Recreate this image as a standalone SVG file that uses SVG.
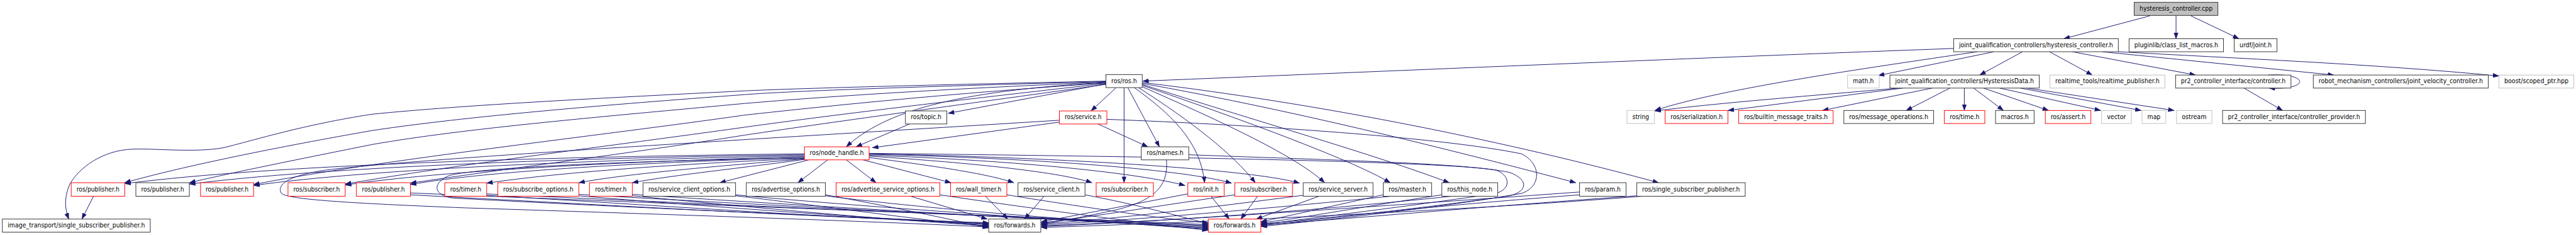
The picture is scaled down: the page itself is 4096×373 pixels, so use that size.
<svg xmlns="http://www.w3.org/2000/svg" width="4096" height="373" viewBox="0 0 4096 373">
<defs>
<marker id="arr" markerUnits="userSpaceOnUse" markerWidth="14" markerHeight="10" viewBox="0 0 14 10" refX="13" refY="5" orient="auto"><path d="M0,0 L14,5 L0,10 z" fill="#191970"/></marker>
<style>
.nd rect{fill:#fff;stroke-width:1.3}
.b rect{stroke:#333}
.r rect{stroke:#ff0000}
.g rect{stroke:#bfbfbf}
.root rect{fill:#bfbfbf;stroke:#333}
.nd text{font-family:"DejaVu Sans","Liberation Sans",sans-serif;font-size:14px;fill:#000;text-anchor:middle}
#edges path{fill:none;stroke:#191970;stroke-width:1.3;marker-end:url(#arr)}
</style>
</defs>
<rect width="4096" height="373" fill="#fff"/>
<g transform="scale(0.7398)">
<g id="edges">
<path d="M4621,34 L4436,83"/>
<path d="M4677,34 L4677,83"/>
<path d="M4709,34 L4812,83"/>
<path d="M4199,104 C3700,122 3000,152 2456,174"/>
<path d="M4250,111 C4000,148 3700,190 3557,237"/>
<path d="M4286,111 L4037,162"/>
<path d="M4347,111 L4255,161"/>
<path d="M4405,111 L4497,161"/>
<path d="M4454,111 L4719,161"/>
<path d="M4518,111 L5016,161"/>
<path d="M4553,111 C4800,125 5100,137 5371,163"/>
<path d="M4080,189 C3900,205 3700,220 3557,238"/>
<path d="M4090,189 L3714,237"/>
<path d="M4153,189 L3917,237"/>
<path d="M4191,189 L4097,237"/>
<path d="M4222,189 L4222,237"/>
<path d="M4242,189 L4306,237"/>
<path d="M4263,189 L4403,237"/>
<path d="M4298,189 L4515,237"/>
<path d="M4342,189 L4602,237"/>
<path d="M4357,189 L4673,237"/>
<path d="M4875,161 C4965,156 4965,194 4877,189"/>
<path d="M4823,189 L4906,237"/>
<path d="M2399,188 L2345,238"/>
<path d="M2416,188 L2416,392"/>
<path d="M2424,188 L2492,315"/>
<path d="M2438,188 C2510,240 2580,300 2589,392"/>
<path d="M2447,188 C2560,260 2650,330 2698,392"/>
<path d="M2455,186 C2600,250 2780,330 2847,392"/>
<path d="M2455,183 C2650,250 2900,340 2988,392"/>
<path d="M2455,181 C2700,260 2950,330 3115,392"/>
<path d="M2455,179 C2800,240 3150,330 3387,392"/>
<path d="M2455,177 C2900,230 3300,320 3565,392"/>
<path d="M2377,180 L2038,243"/>
<path d="M2377,177 C2050,195 1900,240 1819,315"/>
<path d="M2377,174 C2000,182 1700,190 1600,195 C1300,210 1000,225 800,245 C650,268 550,300 480,317 C420,328 330,318 286,320 C220,322 170,360 150,395 C135,430 142,455 148,470"/>
<path d="M2377,175 C2000,185 1700,195 1600,203 C1300,225 1000,250 800,280 C600,315 400,355 268,392"/>
<path d="M2377,176 C2050,190 1800,205 1600,222 C1300,250 1000,275 800,310 C650,340 500,370 407,392"/>
<path d="M2377,178 C2050,200 1800,225 1600,247 C1300,290 800,345 545,396"/>
<path d="M2377,179 C2100,210 1800,245 1600,273 C1300,315 1000,350 742,395"/>
<path d="M2377,181 C2100,220 1800,260 1600,290 C1350,330 1100,360 882,393"/>
<path d="M1729,330 C1200,336 600,352 268,394"/>
<path d="M1729,332 C1250,338 700,358 407,395"/>
<path d="M1729,334 C1300,342 800,362 545,398"/>
<path d="M1729,336 C1350,346 950,366 742,397"/>
<path d="M1729,338 C1400,348 1050,366 882,396"/>
<path d="M1729,340 C1450,352 1200,370 1046,393"/>
<path d="M1729,341 C1550,356 1350,372 1244,392"/>
<path d="M1729,342 C1600,360 1450,375 1359,392"/>
<path d="M1738,343 L1547,392"/>
<path d="M1779,343 L1715,392"/>
<path d="M1819,343 L1883,392"/>
<path d="M1855,343 L2044,392"/>
<path d="M1868,338 C2000,355 2120,372 2179,392"/>
<path d="M1868,335 C2100,350 2280,370 2347,392"/>
<path d="M1868,333 C2200,345 2450,372 2547,398"/>
<path d="M1868,331 C2250,340 2550,365 2647,393"/>
<path d="M1868,330 C2300,338 2700,365 2793,393"/>
<path d="M1868,329 C2400,335 3100,345 3215,365 C3245,375 3250,405 3215,415 C3050,440 2800,470 2710,482"/>
<path d="M1729,339 C1300,346 1000,362 962,378 C928,395 932,420 975,425 C1400,448 1900,468 2125,479"/>
<path d="M2277,258 C1600,300 900,340 700,365 C610,378 595,400 605,415 C620,428 750,436 1000,446 C1500,462 1900,476 2125,487"/>
<path d="M2379,256 C2700,268 3100,295 3270,330 C3312,350 3315,400 3270,415 C3100,445 2850,472 2710,486"/>
<path d="M2555,332 C2900,345 3150,350 3245,370 C3285,385 3285,410 3245,420 C3050,448 2820,472 2710,484"/>
<path d="M2507,343 C2512,400 2480,430 2400,450 C2330,465 2280,475 2238,480"/>
<path d="M1955,266 L1840,315"/>
<path d="M2277,262 L1875,317"/>
<path d="M2360,266 L2467,315"/>
<path d="M201,421 L176,470"/>
<path d="M882,418 C1300,440 1800,468 2125,478"/>
<path d="M1046,419 C1400,440 1800,468 2125,480"/>
<path d="M1244,420 C1500,442 1900,470 2125,482"/>
<path d="M1359,420 C1600,443 1900,472 2125,484"/>
<path d="M1581,420 C1800,446 2000,475 2125,486"/>
<path d="M1774,418 C1900,440 2050,472 2125,489"/>
<path d="M1957,421 L2122,470"/>
<path d="M2118,421 L2166,470"/>
<path d="M2244,421 L2202,470"/>
<path d="M882,414 C1500,440 2300,468 2597,482"/>
<path d="M1046,416 C1600,442 2300,470 2597,484"/>
<path d="M1244,417 C1700,444 2300,472 2597,486"/>
<path d="M1359,417 C1800,446 2300,474 2597,488"/>
<path d="M1581,418 C1900,448 2350,476 2597,490"/>
<path d="M1774,420 C2000,450 2400,478 2597,492"/>
<path d="M2020,418 C2200,445 2450,478 2597,494"/>
<path d="M2164,418 C2300,440 2500,470 2597,478"/>
<path d="M2332,418 C2450,440 2550,468 2597,480"/>
<path d="M2603,421 L2642,470"/>
<path d="M2703,421 L2667,470"/>
<path d="M2835,421 L2700,470"/>
<path d="M2973,418 L2710,476"/>
<path d="M3099,418 C2900,448 2800,468 2710,478"/>
<path d="M3395,418 C3000,448 2850,470 2710,480"/>
<path d="M3518,420 C3100,450 2850,474 2710,482"/>
<path d="M2553,416 L2238,476"/>
<path d="M2654,418 C2500,440 2350,465 2238,478"/>
<path d="M2801,419 C2600,445 2400,470 2238,480"/>
<path d="M2990,421 C2700,450 2400,475 2238,482"/>
<path d="M3120,421 C2800,455 2450,478 2238,484"/>
<path d="M3395,412 C3000,440 2500,475 2238,486"/>
<path d="M3530,421 C3100,455 2500,480 2238,488"/>
</g>
<g id="n_cpp" class="nd root"><rect x="4587" y="5" width="180" height="28"/><text x="4677" y="23" textLength="157" lengthAdjust="spacingAndGlyphs">hysteresis_controller.cpp</text></g>
<g id="n_hc" class="nd b"><rect x="4199" y="83" width="354" height="28"/><text x="4376" y="101" textLength="331" lengthAdjust="spacingAndGlyphs">joint_qualification_controllers/hysteresis_controller.h</text></g>
<g id="n_plug" class="nd b"><rect x="4576" y="83" width="203" height="28"/><text x="4677.5" y="101" textLength="180" lengthAdjust="spacingAndGlyphs">pluginlib/class_list_macros.h</text></g>
<g id="n_urdf" class="nd b"><rect x="4802" y="83" width="92" height="28"/><text x="4848" y="101" textLength="69" lengthAdjust="spacingAndGlyphs">urdf/joint.h</text></g>
<g id="n_ros" class="nd b"><rect x="2377" y="160" width="78" height="28"/><text x="2416" y="178" textLength="55" lengthAdjust="spacingAndGlyphs">ros/ros.h</text></g>
<g id="n_math" class="nd g"><rect x="3971" y="161" width="68" height="28"/><text x="4005" y="179" textLength="45" lengthAdjust="spacingAndGlyphs">math.h</text></g>
<g id="n_hd" class="nd b"><rect x="4062" y="161" width="321" height="28"/><text x="4222.5" y="179" textLength="298" lengthAdjust="spacingAndGlyphs">joint_qualification_controllers/HysteresisData.h</text></g>
<g id="n_rtp" class="nd g"><rect x="4406" y="161" width="247" height="28"/><text x="4529.5" y="179" textLength="224" lengthAdjust="spacingAndGlyphs">realtime_tools/realtime_publisher.h</text></g>
<g id="n_ctrl" class="nd b"><rect x="4676" y="161" width="248" height="28"/><text x="4800" y="179" textLength="225" lengthAdjust="spacingAndGlyphs">pr2_controller_interface/controller.h</text></g>
<g id="n_jvc" class="nd b"><rect x="4972" y="161" width="376" height="28"/><text x="5160" y="179" textLength="353" lengthAdjust="spacingAndGlyphs">robot_mechanism_controllers/joint_velocity_controller.h</text></g>
<g id="n_boost" class="nd g"><rect x="5371" y="161" width="161" height="28"/><text x="5451.5" y="179" textLength="138" lengthAdjust="spacingAndGlyphs">boost/scoped_ptr.hpp</text></g>
<g id="n_topic" class="nd b"><rect x="1946" y="238" width="89" height="28"/><text x="1990.5" y="256" textLength="66" lengthAdjust="spacingAndGlyphs">ros/topic.h</text></g>
<g id="n_service" class="nd r"><rect x="2277" y="238" width="102" height="28"/><text x="2328" y="256" textLength="79" lengthAdjust="spacingAndGlyphs">ros/service.h</text></g>
<g id="n_string" class="nd g"><rect x="3497" y="237" width="59" height="28"/><text x="3526.5" y="255" textLength="36" lengthAdjust="spacingAndGlyphs">string</text></g>
<g id="n_ser" class="nd r"><rect x="3579" y="237" width="135" height="28"/><text x="3646.5" y="255" textLength="112" lengthAdjust="spacingAndGlyphs">ros/serialization.h</text></g>
<g id="n_bmt" class="nd r"><rect x="3737" y="237" width="203" height="28"/><text x="3838.5" y="255" textLength="180" lengthAdjust="spacingAndGlyphs">ros/builtin_message_traits.h</text></g>
<g id="n_mo" class="nd b"><rect x="3963" y="237" width="193" height="28"/><text x="4059.5" y="255" textLength="170" lengthAdjust="spacingAndGlyphs">ros/message_operations.h</text></g>
<g id="n_time" class="nd r"><rect x="4179" y="237" width="87" height="28"/><text x="4222.5" y="255" textLength="64" lengthAdjust="spacingAndGlyphs">ros/time.h</text></g>
<g id="n_macros" class="nd b"><rect x="4289" y="237" width="83" height="28"/><text x="4330.5" y="255" textLength="60" lengthAdjust="spacingAndGlyphs">macros.h</text></g>
<g id="n_assert" class="nd r"><rect x="4396" y="237" width="98" height="28"/><text x="4445" y="255" textLength="75" lengthAdjust="spacingAndGlyphs">ros/assert.h</text></g>
<g id="n_vector" class="nd g"><rect x="4517" y="237" width="64" height="28"/><text x="4549" y="255" textLength="41" lengthAdjust="spacingAndGlyphs">vector</text></g>
<g id="n_map" class="nd g"><rect x="4604" y="237" width="51" height="28"/><text x="4629.5" y="255" textLength="28" lengthAdjust="spacingAndGlyphs">map</text></g>
<g id="n_ostream" class="nd g"><rect x="4678" y="237" width="76" height="28"/><text x="4716" y="255" textLength="53" lengthAdjust="spacingAndGlyphs">ostream</text></g>
<g id="n_prov" class="nd b"><rect x="4777" y="237" width="307" height="28"/><text x="4930.5" y="255" textLength="284" lengthAdjust="spacingAndGlyphs">pr2_controller_interface/controller_provider.h</text></g>
<g id="n_nh" class="nd r"><rect x="1729" y="315" width="139" height="28"/><text x="1798.5" y="333" textLength="116" lengthAdjust="spacingAndGlyphs">ros/node_handle.h</text></g>
<g id="n_names" class="nd b"><rect x="2453" y="315" width="102" height="28"/><text x="2504" y="333" textLength="79" lengthAdjust="spacingAndGlyphs">ros/names.h</text></g>
<g id="n_pub1" class="nd r"><rect x="153" y="392" width="115" height="29"/><text x="210.5" y="411" textLength="92" lengthAdjust="spacingAndGlyphs">ros/publisher.h</text></g>
<g id="n_pub2" class="nd b"><rect x="292" y="392" width="115" height="29"/><text x="349.5" y="411" textLength="92" lengthAdjust="spacingAndGlyphs">ros/publisher.h</text></g>
<g id="n_pub3" class="nd r"><rect x="431" y="392" width="114" height="29"/><text x="488" y="411" textLength="92" lengthAdjust="spacingAndGlyphs">ros/publisher.h</text></g>
<g id="n_sub1" class="nd r"><rect x="619" y="392" width="123" height="29"/><text x="680.5" y="411" textLength="100" lengthAdjust="spacingAndGlyphs">ros/subscriber.h</text></g>
<g id="n_pub4" class="nd r"><rect x="766" y="392" width="116" height="29"/><text x="824" y="411" textLength="92" lengthAdjust="spacingAndGlyphs">ros/publisher.h</text></g>
<g id="n_timer1" class="nd r"><rect x="956" y="392" width="90" height="29"/><text x="1001" y="411" textLength="67" lengthAdjust="spacingAndGlyphs">ros/timer.h</text></g>
<g id="n_subopt" class="nd r"><rect x="1070" y="392" width="174" height="29"/><text x="1157" y="411" textLength="151" lengthAdjust="spacingAndGlyphs">ros/subscribe_options.h</text></g>
<g id="n_timer2" class="nd r"><rect x="1267" y="392" width="92" height="29"/><text x="1313" y="411" textLength="68" lengthAdjust="spacingAndGlyphs">ros/timer.h</text></g>
<g id="n_sco" class="nd b"><rect x="1382" y="392" width="199" height="29"/><text x="1481.5" y="411" textLength="176" lengthAdjust="spacingAndGlyphs">ros/service_client_options.h</text></g>
<g id="n_advopt" class="nd b"><rect x="1604" y="392" width="170" height="29"/><text x="1689" y="411" textLength="147" lengthAdjust="spacingAndGlyphs">ros/advertise_options.h</text></g>
<g id="n_advsrv" class="nd r"><rect x="1797" y="392" width="223" height="29"/><text x="1908.5" y="411" textLength="200" lengthAdjust="spacingAndGlyphs">ros/advertise_service_options.h</text></g>
<g id="n_wall" class="nd r"><rect x="2043" y="392" width="121" height="29"/><text x="2103.5" y="411" textLength="98" lengthAdjust="spacingAndGlyphs">ros/wall_timer.h</text></g>
<g id="n_sc" class="nd b"><rect x="2188" y="392" width="144" height="29"/><text x="2260" y="411" textLength="121" lengthAdjust="spacingAndGlyphs">ros/service_client.h</text></g>
<g id="n_sub2" class="nd r"><rect x="2356" y="392" width="123" height="29"/><text x="2417.5" y="411" textLength="100" lengthAdjust="spacingAndGlyphs">ros/subscriber.h</text></g>
<g id="n_init" class="nd r"><rect x="2553" y="392" width="78" height="29"/><text x="2592" y="411" textLength="55" lengthAdjust="spacingAndGlyphs">ros/init.h</text></g>
<g id="n_sub3" class="nd r"><rect x="2654" y="392" width="124" height="29"/><text x="2716" y="411" textLength="100" lengthAdjust="spacingAndGlyphs">ros/subscriber.h</text></g>
<g id="n_ss" class="nd b"><rect x="2801" y="392" width="150" height="29"/><text x="2876" y="411" textLength="127" lengthAdjust="spacingAndGlyphs">ros/service_server.h</text></g>
<g id="n_master" class="nd b"><rect x="2973" y="392" width="104" height="29"/><text x="3025" y="411" textLength="81" lengthAdjust="spacingAndGlyphs">ros/master.h</text></g>
<g id="n_this" class="nd b"><rect x="3099" y="392" width="120" height="29"/><text x="3159" y="411" textLength="97" lengthAdjust="spacingAndGlyphs">ros/this_node.h</text></g>
<g id="n_param" class="nd b"><rect x="3395" y="392" width="100" height="29"/><text x="3445" y="411" textLength="77" lengthAdjust="spacingAndGlyphs">ros/param.h</text></g>
<g id="n_ssp" class="nd b"><rect x="3518" y="392" width="233" height="29"/><text x="3634.5" y="411" textLength="210" lengthAdjust="spacingAndGlyphs">ros/single_subscriber_publisher.h</text></g>
<g id="n_itssp" class="nd b"><rect x="5" y="470" width="318" height="28"/><text x="164" y="488" textLength="295" lengthAdjust="spacingAndGlyphs">image_transport/single_subscriber_publisher.h</text></g>
<g id="n_fwd1" class="nd b"><rect x="2125" y="470" width="112" height="28"/><text x="2181" y="488" textLength="89" lengthAdjust="spacingAndGlyphs">ros/forwards.h</text></g>
<g id="n_fwd2" class="nd r"><rect x="2597" y="470" width="113" height="28"/><text x="2653.5" y="488" textLength="90" lengthAdjust="spacingAndGlyphs">ros/forwards.h</text></g>
</g>
</svg>
